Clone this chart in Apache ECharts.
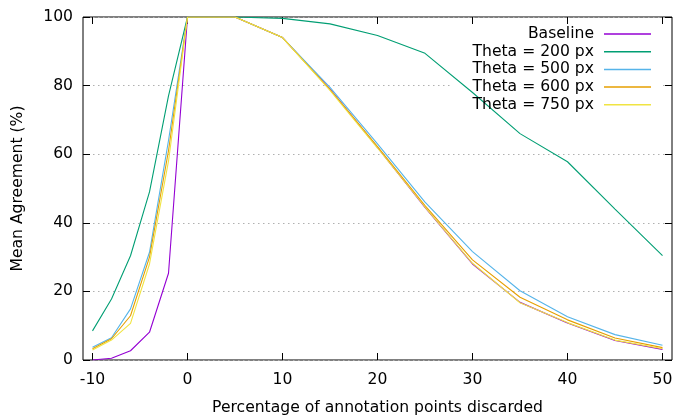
<!DOCTYPE html>
<html>
<head>
<meta charset="utf-8">
<script src="https://cdn.jsdelivr.net/npm/echarts@6/dist/echarts.min.js"></script>
<style>
  html, body { margin: 0; padding: 0; background: #fff; }
  #chart { width: 674px; height: 418px; }
</style>
</head>
<body>
<div id="chart"></div>
<script>
// x positions (% of annotation points discarded)
const xs = [-10, -8, -6, -4, -2, 0, 5, 10, 15, 20, 25, 30, 35, 40, 45, 50];
const xTicks = [-10, 0, 10, 20, 30, 40, 50];

const seriesNames = ["Baseline", "Theta = 200 px", "Theta = 500 px", "Theta = 600 px", "Theta = 750 px"];
const baseline = [0, 0.5, 2.7, 8.1, 25.3, 100, 100, 94, 79, 62, 44.5, 28, 16.8, 10.8, 5.7, 3.1];
const theta200 = [8.5, 17.8, 30.4, 49, 77, 100, 100, 99.6, 98, 94.6, 89.4, 78, 66, 57.8, 44, 30.4];
const theta500 = [3.7, 6.5, 14.9, 31.4, 64, 100, 100, 94, 79.5, 63, 46, 31.6, 20.2, 12.6, 7.4, 4.3];
const theta600 = [3.3, 6.2, 12.9, 30, 61, 100, 100, 94, 78.8, 62.2, 45, 29.2, 18.3, 11.7, 6.4, 3.6];
const theta750 = [2.9, 5.8, 10.7, 28, 58, 100, 100, 94, 78.6, 61.8, 44.6, 28.2, 16.7, 10.9, 5.8, 3.3];
const allValues = [baseline, theta200, theta500, theta600, theta750];
const colors = ["#9400d3", "#009e73", "#56b4e9", "#e69f00", "#f0e442"];

const font = "DejaVu Sans";
const fontSize = 15.6;
const chart = echarts.init(document.getElementById("chart"));

// 凡例: 1項目ずつ右寄せで並べる
const legendRows = [34, 51.7, 69.4, 87, 104.7];
const legends = seriesNames.map(function (name, i) {
  return {
    data: [name],
    right: 23,
    top: legendRows[i] - 8.5,
    padding: 0,
    align: "right",
    icon: "rect",
    itemWidth: 47,
    itemHeight: 1.5,
    selectedMode: false,
    textStyle: { fontFamily: font, fontSize: fontSize, color: "#000", lineHeight: 17, padding: [0, 5, 0, 0] },
  };
});

const tickStyle = { inside: true, length: 7, lineStyle: { color: "#000" } };

const option = {
  animation: false,
  grid: {
    left: 83, right: 2, top: 17, bottom: 58,
    outerBoundsMode: "none",
    show: true, borderColor: "#000", borderWidth: 1,
  },
  legend: legends,
  graphic: [
    {
      type: "rect",
      z: 1,
      shape: { x: 453, y: 24, width: 209, height: 90 },
      style: { fill: "#fff" },
      silent: true,
    },
  ],
  xAxis: [
    {
      type: "value",
      min: -11,
      max: 51,
      name: "Percentage of annotation points discarded",
      nameLocation: "middle",
      nameGap: 40,
      nameTextStyle: { fontFamily: font, fontSize: fontSize, color: "#000" },
      axisLine: { show: false, onZero: false },
      axisTick: Object.assign({ customValues: xTicks }, tickStyle),
      axisLabel: { customValues: xTicks, fontFamily: font, fontSize: fontSize, color: "#000", margin: 12 },
      splitLine: { show: false },
    },
    {
      type: "value",
      position: "top",
      min: -11,
      max: 51,
      axisLine: { show: false, onZero: false },
      axisTick: Object.assign({ customValues: xTicks }, tickStyle),
      axisLabel: { show: false },
      splitLine: { show: false },
    },
  ],
  yAxis: [
    {
      type: "value",
      min: 0,
      max: 100,
      interval: 20,
      name: "Mean Agreement (%)",
      nameLocation: "middle",
      nameGap: 57,
      nameRotate: 90,
      nameTextStyle: { fontFamily: font, fontSize: fontSize, color: "#000" },
      axisLine: { show: false, onZero: false },
      axisTick: tickStyle,
      axisLabel: { fontFamily: font, fontSize: fontSize, color: "#000", margin: 10 },
      splitLine: { show: true, lineStyle: { color: "#b0b0b0", width: 1, type: [1.5, 3.5] } },
    },
    {
      type: "value",
      position: "right",
      min: 0,
      max: 100,
      interval: 20,
      axisLine: { show: false, onZero: false },
      axisTick: tickStyle,
      axisLabel: { show: false },
      splitLine: { show: false },
    },
  ],
  series: seriesNames.map(function (name, i) {
    return {
      name: name,
      type: "line",
      z: 2,
      showSymbol: false,
      symbol: "none",
      color: colors[i],
      lineStyle: { width: 1.1, color: colors[i] },
      data: xs.map(function (x, j) { return [x, allValues[i][j]]; }),
    };
  }),
};

chart.setOption(option);
</script>
</body>
</html>
